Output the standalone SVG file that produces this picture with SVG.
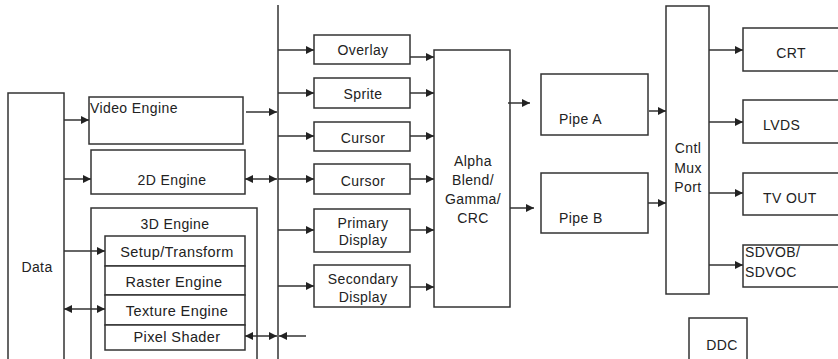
<svg xmlns="http://www.w3.org/2000/svg" width="838" height="359" viewBox="0 0 838 359">
<style>
.b{fill:#fff;stroke:#333;stroke-width:1.5}
.o{fill:none;stroke:#333;stroke-width:1.5}
.c{fill:none;stroke:#333;stroke-width:1.5;marker-end:url(#ah)}
.d{fill:none;stroke:#333;stroke-width:1.5;marker-start:url(#ah);marker-end:url(#ah)}
text{font-family:"Liberation Sans",Arial,sans-serif;font-size:14px;fill:#222;letter-spacing:0.4px}
.m{text-anchor:middle}
.l{font-size:14.5px}
</style>
<defs>
<marker id="ah" viewBox="0 0 10 10" refX="10" refY="5" markerWidth="9" markerHeight="8" markerUnits="userSpaceOnUse" orient="auto-start-reverse">
<path d="M0,0 L10,5 L0,10 z" fill="#222"/>
</marker>
</defs>
<rect width="838" height="359" fill="#fff"/>

<g id="data"><rect class="b" x="8" y="93" width="56" height="280"/><text class="m" x="37" y="272">Data</text></g>
<g id="video-engine"><rect class="b" x="89" y="97" width="154" height="47"/><text x="90" y="113">Video Engine</text></g>
<g id="engine-2d"><rect class="b" x="91" y="150" width="154" height="44"/><text class="m" x="172" y="185">2D Engine</text></g>
<g id="engine-3d"><rect class="b" x="91" y="208" width="166" height="165"/><text class="m" x="175" y="229">3D Engine</text></g>
<g id="setup"><rect class="b" x="105" y="236" width="140" height="30"/><text class="m l" x="177" y="257">Setup/Transform</text></g>
<g id="raster"><rect class="b" x="105" y="266" width="140" height="29"/><text class="m l" x="174" y="287">Raster Engine</text></g>
<g id="texture"><rect class="b" x="105" y="295" width="140" height="30"/><text class="m l" x="177" y="316">Texture Engine</text></g>
<g id="pixel"><rect class="b" x="105" y="325" width="140" height="25"/><text class="m l" x="177" y="342">Pixel Shader</text></g>

<g id="overlay"><rect class="b" x="314" y="35" width="96" height="29"/><text class="m" x="363" y="55">Overlay</text></g>
<g id="sprite"><rect class="b" x="314" y="78" width="96" height="30"/><text class="m" x="363" y="99">Sprite</text></g>
<g id="cursor1"><rect class="b" x="314" y="122" width="96" height="29"/><text class="m" x="363" y="143">Cursor</text></g>
<g id="cursor2"><rect class="b" x="314" y="164" width="96" height="30"/><text class="m" x="363" y="186">Cursor</text></g>
<g id="primary"><rect class="b" x="314" y="209" width="96" height="43"/><text class="m" x="363" y="228">Primary</text><text class="m" x="363" y="245">Display</text></g>
<g id="secondary"><rect class="b" x="314" y="265" width="96" height="42"/><text class="m" x="363" y="284">Secondary</text><text class="m" x="363" y="302">Display</text></g>

<g id="alpha"><rect class="b" x="434" y="50" width="76" height="257"/>
<text class="m" x="473" y="166">Alpha</text><text class="m" x="473" y="185">Blend/</text><text class="m" x="473" y="204">Gamma/</text><text class="m" x="473" y="223">CRC</text></g>

<g id="pipe-a"><rect class="b" x="541" y="74" width="107" height="61"/><text x="559" y="124">Pipe A</text></g>
<g id="pipe-b"><rect class="b" x="541" y="173" width="107" height="60"/><text x="559" y="223">Pipe B</text></g>

<g id="cntl"><rect class="b" x="666" y="6" width="43" height="288"/>
<text class="m" x="688" y="153">Cntl</text><text class="m" x="688" y="173">Mux</text><text class="m" x="688" y="192">Port</text></g>

<g id="crt"><rect class="b" x="743" y="28" width="100" height="43"/><text class="m" x="791" y="58">CRT</text></g>
<g id="lvds"><rect class="b" x="743" y="100" width="100" height="43"/><text x="763" y="130">LVDS</text></g>
<g id="tvout"><rect class="b" x="743" y="173" width="100" height="42"/><text x="763" y="203">TV OUT</text></g>
<g id="sdvo"><rect class="b" x="743" y="245" width="100" height="42"/><text x="745" y="257">SDVOB/</text><text x="745" y="277">SDVOC</text></g>
<g id="ddc"><rect class="b" x="689" y="318" width="58" height="60"/><text class="m" x="722" y="350">DDC</text></g>

<g id="connectors">
<line class="o" x1="278" y1="5" x2="278" y2="365"/>
<line class="c" x1="64" y1="120" x2="89" y2="120"/>
<line class="c" x1="64" y1="179" x2="91" y2="179"/>
<line class="c" x1="64" y1="251" x2="105" y2="251"/>
<line class="d" x1="64" y1="309" x2="105" y2="309"/>
<line class="c" x1="246" y1="112" x2="277" y2="112"/>
<line class="d" x1="245" y1="179" x2="277" y2="179"/>
<line class="d" x1="245" y1="336" x2="277" y2="336"/>
<line class="c" x1="306" y1="336" x2="279" y2="336"/>
<line class="c" x1="278" y1="50" x2="314" y2="50"/>
<line class="c" x1="278" y1="93" x2="314" y2="93"/>
<line class="c" x1="278" y1="136" x2="314" y2="136"/>
<line class="c" x1="278" y1="179" x2="314" y2="179"/>
<line class="c" x1="278" y1="230" x2="314" y2="230"/>
<line class="c" x1="278" y1="286" x2="314" y2="286"/>
<line class="c" x1="410" y1="57" x2="434" y2="57"/>
<line class="c" x1="410" y1="93" x2="434" y2="93"/>
<line class="c" x1="410" y1="136" x2="434" y2="136"/>
<line class="c" x1="410" y1="179" x2="434" y2="179"/>
<line class="c" x1="410" y1="230" x2="434" y2="230"/>
<line class="c" x1="410" y1="287" x2="434" y2="287"/>
<line class="c" x1="508" y1="103" x2="530" y2="103"/>
<line class="c" x1="510" y1="208" x2="534" y2="208"/>
<line class="c" x1="649" y1="111" x2="666" y2="111"/>
<line class="c" x1="648" y1="203" x2="666" y2="203"/>
<line class="c" x1="709" y1="50" x2="743" y2="50"/>
<line class="c" x1="709" y1="122" x2="743" y2="122"/>
<line class="c" x1="709" y1="193" x2="743" y2="193"/>
<line class="c" x1="709" y1="265" x2="743" y2="265"/>
</g>
</svg>
